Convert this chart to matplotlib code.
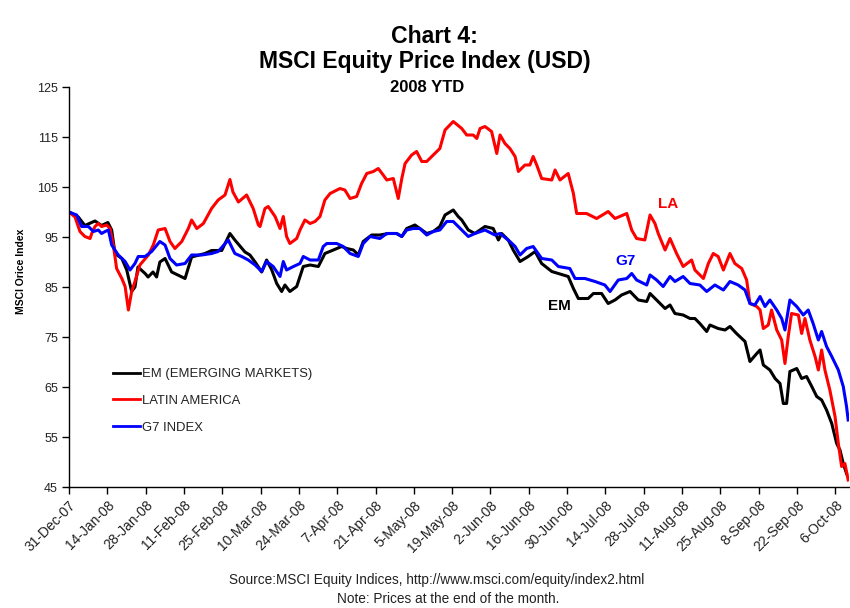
import matplotlib
matplotlib.use('Agg')
import matplotlib.pyplot as plt
import pandas as pd
from matplotlib import font_manager

# ---------------- data (day offset from 31-Dec-2007, index value) ----------------
start_date = '2007-12-31'

em_day = [0.0, 3.4, 5.8, 9.5, 11.9, 14.2, 15.6, 16.8, 19.3, 21.1, 22.9, 24.1, 25.2, 27.8, 28.9, 30.7, 32.0,
          33.2, 35.1, 37.5, 42.4, 44.8, 49.7, 52.1, 55.8, 58.8, 60.6, 64.3, 66.1, 68.0, 70.4, 72.2, 74.1,
          75.9, 77.7, 78.9, 80.7, 83.2, 85.6, 88.1, 91.1, 93.5, 96.6, 99.6, 101.5, 103.9, 105.7, 107.5,
          110.6, 113.6, 116.7, 119.7, 121.6, 123.4, 126.4, 128.2, 130.7, 133.1, 135.5, 137.4, 140.4, 142.2,
          143.5, 145.9, 148.3, 152.0, 155.0, 156.9, 158.1, 160.5, 162.3, 164.8, 167.8, 170.3, 172.7, 176.4,
          178.8, 182.4, 184.3, 186.1, 189.7, 191.6, 194.6, 197.0, 199.5, 201.9, 205.0, 208.0, 211.1, 212.3,
          214.7, 217.8, 219.6, 221.4, 224.4, 226.9, 228.7, 230.5, 233.0, 234.2, 237.2, 239.7, 241.5, 243.9,
          247.0, 248.8, 251.3, 252.5, 253.7, 256.1, 258.0, 259.8, 261.0, 262.2, 263.4, 265.9, 267.7, 269.5,
          271.4, 273.2, 275.0, 276.8, 278.7, 280.5, 281.7, 282.9, 284.1]
em_val = [100, 99, 97.3, 98.2, 97.3, 97.9, 96.4, 91.7, 90.7, 88.4, 84.1, 85, 89, 87.7, 87, 88, 87,
          90, 90.7, 88, 86.7, 91, 91.7, 92.3, 92.3, 95.7, 94.4, 92, 91.4, 90, 88, 90.4, 88.4,
          85.7, 84.1, 85.4, 84.1, 85.1, 89.1, 89.4, 89.1, 91.7, 92.4, 93.1, 92.7, 92.4, 91.4, 94.1,
          95.4, 95.4, 95.7, 95.7, 95.1, 96.7, 97.4, 96.7, 95.7, 96.1, 97.1, 99.4, 100.4, 99.1,
          98.4, 96.4, 95.7, 97.1, 96.7, 94.4, 95.7, 94.4, 92.4, 90.1, 91.1, 92.1, 89.7, 88.1,
          87.7, 87.1, 84.7, 82.7, 82.7, 83.7, 83.7, 81.7, 82.4, 83.4, 84.1, 82.4, 82.1, 83.7,
          82.4, 80.7, 81.4, 79.7, 79.4, 78.7, 78.7, 77.7, 76.1, 77.4, 76.7, 76.4, 77.1, 75.7,
          74.1, 70.1, 71.7, 72.4, 69.4, 68.4, 66.7, 65.7, 61.7, 61.7, 68.1, 68.7, 66.7, 67.1,
          65.1, 63.1, 62.4, 60.4, 57.7, 53.7, 52.4, 49.7, 47.7]

la_day = [0.0, 2.2, 4.0, 5.8, 7.7, 8.3, 9.5, 10.7, 11.9, 13.8, 15.0, 16.2, 17.4, 19.3, 20.5, 21.7, 22.9,
          24.1, 25.9, 29.0, 30.8, 32.6, 35.1, 36.9, 38.7, 41.2, 43.6, 44.8, 46.7, 49.1, 52.1, 54.5, 57.0,
          58.8, 59.9, 61.9, 64.9, 67.3, 69.2, 69.8, 71.6, 72.8, 75.3, 77.1, 78.3, 79.5, 80.7, 83.2, 84.4,
          86.2, 88.1, 89.9, 91.7, 93.5, 95.4, 99.0, 100.8, 102.7, 105.1, 106.9, 108.8, 111.2, 113.0, 114.8,
          116.1, 118.5, 120.3, 121.6, 122.8, 125.2, 127.0, 128.9, 130.7, 133.1, 135.5, 137.4, 140.4, 143.5,
          145.3, 147.7, 149.0, 150.2, 152.0, 154.4, 156.3, 157.5, 159.3, 161.1, 163.0, 164.2, 166.6, 168.4,
          169.6, 170.9, 172.7, 176.4, 177.6, 179.4, 182.4, 184.3, 185.5, 189.1, 192.8, 197.0, 199.5, 203.8,
          205.6, 207.4, 210.4, 212.3, 214.1, 215.3, 217.8, 219.6, 222.0, 224.4, 227.5, 228.7, 231.8, 233.6,
          235.4, 237.2, 239.1, 241.5, 243.3, 245.8, 247.6, 248.8, 251.3, 252.5, 253.7, 255.5, 256.7, 258.6,
          260.4, 261.6, 262.8, 264.0, 266.5, 267.7, 268.9, 270.7, 272.6, 273.8, 275.0, 276.2, 278.0, 279.9,
          281.1, 282.3, 283.5, 284.7]
la_val = [100, 99, 96.1, 95.1, 94.7, 95.7, 97.1, 97.7, 97.1, 97.4, 96.7, 93.4, 88.7, 86.7, 85.1, 80.4, 84.1,
          86.1, 89.4, 91.4, 93.4, 96.4, 96.7, 94.1, 92.7, 94.1, 96.7, 98.4, 96.7, 97.7, 100.7, 102.4, 103.4,
          106.5, 104, 102, 103.4, 100.7, 97.4, 97.1, 100.7, 101.1, 99.1, 96.7, 99.1, 95.1, 93.7, 94.7, 96.4,
          98.4, 97.7, 98.1, 99.1, 102.4, 103.7, 104.7, 104.4, 102.7, 103.1, 105.7, 107.7, 108.1, 108.7, 107.4,
          106.4, 106.7, 102.7, 106.7, 109.7, 111.4, 112.1, 110.1, 110.1, 111.4, 112.7, 116.4, 118.1, 116.7,
          115.4, 115.4, 114.7, 116.7, 117.1, 116.1, 111.7, 115.4, 113.7, 112.7, 111.1, 108.1, 109.4, 109.4,
          111.1, 109.4, 106.7, 106.4, 108.4, 106.4, 107.7, 103.7, 99.7, 99.7, 98.7, 100.1, 98.7, 99.7,
          96.4, 94.7, 94.4, 99.4, 97.7, 95.7, 92.4, 94.7, 91.7, 89.1, 90.4, 88.4, 86.7, 89.7,
          91.7, 91.1, 88.4, 91.7, 89.7, 88.7, 86.4, 81.7, 81.1, 80.4, 76.7, 77.4, 80.4, 76.4,
          74.4, 69.7, 75.1, 79.7, 79.4, 75.7, 78.7, 74.4, 71.1, 68.4, 72.4, 68.4, 64.4, 59.1,
          53.7, 49.1, 49.7, 46.4]

g7_day = [0.0, 2.8, 4.6, 7.1, 8.9, 10.7, 11.9, 13.2, 14.4, 15.6, 18.0, 20.5, 22.3, 24.1, 25.3, 27.8, 30.2,
          33.2, 35.1, 36.9, 39.3, 42.4, 44.8, 48.5, 52.1, 54.5, 58.2, 60.6, 63.1, 65.5, 68.0, 70.4, 72.2,
          74.6, 77.1, 78.3, 79.5, 82.0, 84.4, 85.6, 88.1, 91.1, 92.9, 94.2, 97.8, 100.2, 102.7, 105.7, 107.5,
          110.0, 113.6, 116.1, 119.7, 121.6, 123.4, 125.8, 128.2, 130.7, 133.1, 135.5, 138.0, 140.4, 143.5,
          145.9, 148.3, 152.0, 155.6, 157.5, 161.1, 163.0, 164.8, 167.2, 169.6, 172.7, 176.4, 178.8, 183.0,
          184.9, 188.5, 192.2, 195.8, 197.7, 200.7, 203.8, 205.6, 207.4, 211.1, 212.3, 214.7, 217.1, 219.6,
          221.4, 224.4, 226.9, 230.5, 233.0, 236.0, 239.1, 241.5, 244.5, 247.0, 248.8, 250.6, 252.5, 254.3,
          256.1, 258.6, 260.4, 261.6, 263.4, 265.9, 268.3, 270.1, 271.9, 273.8, 275.0, 276.8, 278.7, 281.1,
          282.9, 284.1, 284.7]
g7_val = [100, 99.4, 97.1, 97.1, 96.1, 96.4, 95.7, 96.1, 96.4, 93.4, 91.4, 90.1, 88.4, 89.7, 91.1, 91.1, 92.1,
          94.1, 93.4, 90.7, 89.4, 89.7, 91.4, 91.4, 91.7, 92.1, 94.4, 91.7, 91.1, 90.4, 89.4, 88.1, 90.1,
          89.1, 87.1, 90.1, 88.4, 89.1, 89.7, 91.1, 90.4, 90.4, 93.1, 93.7, 93.7, 93.1, 91.7, 91.1, 93.7,
          95.1, 94.7, 95.7, 95.7, 95.1, 96.4, 96.7, 96.7, 95.4, 96.1, 96.4, 98.1, 98.1, 96.4,
          95.1, 95.7, 96.4, 95.4, 95.7, 94.1, 93.1, 91.4, 92.7, 93.1, 90.7, 90.4, 89.1, 88.7,
          86.7, 86.7, 86.1, 85.4, 84.1, 86.4, 86.7, 87.7, 86.4, 85.4, 87.4, 86.4, 85.1, 87.1,
          86.1, 87.1, 85.7, 85.4, 84.1, 85.4, 84.4, 86.1, 85.4, 84.4, 81.7, 81.4, 83.1, 81.1,
          82.4, 80.4, 78.7, 76.4, 82.4, 81.1, 79.4, 80.4, 77.7, 74.4, 76.1, 73.1, 71.1, 68.4,
          65.1, 61.1, 58.4]

series_names = ['EM (EMERGING MARKETS)', 'LATIN AMERICA', 'G7 INDEX']
series_colors = ['#000000', '#FF0000', '#0000FF']
short_labels = ['EM', 'LA', 'G7']
# label anchor points (day offset, value)
label_day = [179.0, 218.9, 203.5]
label_val = [81.2, 101.6, 90.2]

y_ticks = [45, 55, 65, 75, 85, 95, 105, 115, 125]
tick_step_days = 14
n_ticks = 21
end_day = 285

# ---------------- fonts ----------------
def has_font(name):
    try:
        font_manager.findfont(name, fallback_to_default=False)
        return True
    except Exception:
        return False

base_font = 'Liberation Sans' if has_font('Liberation Sans') else 'DejaVu Sans'
narrow_font = 'Liberation Sans Narrow' if has_font('Liberation Sans Narrow') else base_font
plt.rcParams['font.family'] = [base_font, 'DejaVu Sans']

# ---------------- figure ----------------
fig = plt.figure(figsize=(8.5, 6.08), dpi=100)
ax = fig.add_axes([69 / 850, 1 - 487 / 608, 780 / 850, 400 / 608])

t0 = pd.Timestamp(start_date)
def to_dates(days):
    return [t0 + pd.Timedelta(days=float(d)) for d in days]

all_days = [em_day, la_day, g7_day]
all_vals = [em_val, la_val, g7_val]
for days, vals, name, col in zip(all_days, all_vals, series_names, series_colors):
    ax.plot(to_dates(days), vals, color=col, lw=2.2, label=name, solid_joinstyle='round')

for d, v, txt, col in zip(label_day, label_val, short_labels, series_colors):
    ax.text(t0 + pd.Timedelta(days=d), v, txt, color=col, fontsize=11, fontweight='bold',
            ha='center', va='center')

ax.set_xlim(t0, t0 + pd.Timedelta(days=end_day))
ax.set_ylim(y_ticks[0], y_ticks[-1])
ax.set_yticks(y_ticks)
ax.set_yticklabels([str(t) for t in y_ticks], fontsize=9, family=narrow_font, color='#222222')

xt = [t0 + pd.Timedelta(days=tick_step_days * k) for k in range(n_ticks)]
ax.set_xticks(xt)
ax.set_xticklabels([f"{d.day}-{d.strftime('%b-%y')}" for d in xt], rotation=45, ha='right',
                   va='top', rotation_mode='anchor', fontsize=10, family=narrow_font, color='#222222')
ax.tick_params(axis='both', direction='out', length=5, width=1, color='black')
ax.tick_params(axis='x', pad=3)
ax.tick_params(axis='y', pad=3)

for s in ['top', 'right']:
    ax.spines[s].set_visible(False)
for s in ['left', 'bottom']:
    ax.spines[s].set_linewidth(1)
    ax.spines[s].set_color('black')

ax.set_ylabel('MSCI Orice Index', fontsize=7.5, fontweight='bold')
ax.yaxis.set_label_coords(-0.055, 0.54)

leg = ax.legend(loc='upper left', bbox_to_anchor=(0.056, 0.2975), frameon=False, fontsize=9.4,
                handlelength=2.1, handletextpad=0.15, labelspacing=1.13, borderpad=0, borderaxespad=0)
for line in leg.get_lines():
    line.set_linewidth(2)
for t in leg.get_texts():
    t.set_color('#222222')

fig.text(434 / 850, 1 - 43 / 608, 'Chart 4:', ha='center', va='baseline', fontsize=16.6, fontweight='bold')
fig.text(425 / 850, 1 - 68 / 608, 'MSCI Equity Price Index (USD)', ha='center', va='baseline',
         fontsize=16.5, fontweight='bold')
fig.text(427 / 850, 1 - 92 / 608, '2008 YTD', ha='center', va='baseline', fontsize=12, fontweight='bold')

fig.text(437 / 850, 1 - 580 / 608, 'Source:MSCI Equity Indices, http://www.msci.com/equity/index2.html',
         ha='center', va='center', fontsize=9.8, family=narrow_font, color='#222222')
fig.text(448 / 850, 1 - 599 / 608, 'Note: Prices at the end of the month.', ha='center', va='center',
         fontsize=9.8, family=narrow_font, color='#222222')

fig.savefig('out.png', dpi=100)
